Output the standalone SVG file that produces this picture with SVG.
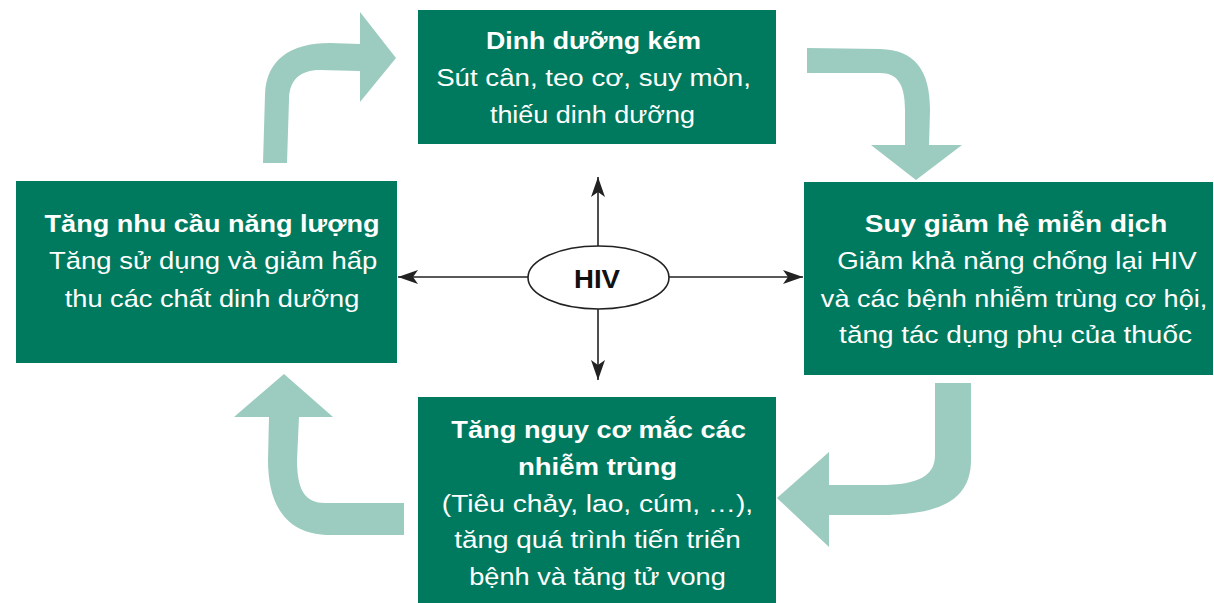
<svg xmlns="http://www.w3.org/2000/svg" width="1214" height="603" viewBox="0 0 1214 603">
<style>
.box{fill:#007a5e}
.t{font-family:"Liberation Sans",Arial,sans-serif;font-size:24px;fill:#ffffff;text-anchor:middle}
.b{font-weight:bold}
.curve{fill:#9ccbbf}
.conn{stroke:#222;stroke-width:1.6;fill:none;marker-end:url(#ah)}
</style>
<defs>
<marker id="ah" markerUnits="userSpaceOnUse" markerWidth="22" markerHeight="16" refX="20" refY="7" orient="auto">
<path d="M0,0 L20,7 L0,14 L5,7 Z" fill="#222"/>
</marker>
</defs>
<rect width="1214" height="603" fill="#ffffff"/>
<g id="curved-arrows">
<path class="curve" d="M263,163 L265,95 C266,60 290,43 330,43 L360,44 L360,12 L396,58 L360,102 L360,71 L320,70 C300,70 289,80 289,100 L287,163 Z"/>
<path class="curve" d="M807,48 L880,49 C915,50 930,70 930,110 L929,145 L962,145 L916,180 L871,145 L905,145 L905,110 C905,85 898,73 880,73 L807,73 Z"/>
<path class="curve" d="M935,383 L971,383 L971,460 C971,500 940,515 880,515 L829,515 L829,547 L777,498 L829,452 L829,485 L880,485 C920,485 935,475 935,455 Z"/>
<path class="curve" d="M404,503 L325,503 C305,503 297,490 297,460 L299,417 L333,417 L284,374 L234,417 L269,417 L268,460 C268,510 290,535 330,535 L404,535 Z"/>
</g>
<g id="connectors">
<line class="conn" x1="598" y1="246" x2="598" y2="177"/>
<line class="conn" x1="598" y1="309" x2="598" y2="380"/>
<line class="conn" x1="669" y1="277" x2="803" y2="277"/>
<line class="conn" x1="528" y1="277" x2="398" y2="277"/>
</g>
<g id="node-top">
<rect class="box" x="418" y="10" width="358" height="134"/>
<g transform="translate(593.5 0) scale(1.12 1)">
<text class="t b" x="0" y="49" textLength="192" lengthAdjust="spacingAndGlyphs">Dinh dưỡng kém</text>
<text class="t" x="0" y="86" textLength="281" lengthAdjust="spacingAndGlyphs">Sút cân, teo cơ, suy mòn,</text>
<text class="t" x="-1" y="123" textLength="183" lengthAdjust="spacingAndGlyphs">thiếu dinh dưỡng</text>
</g>
</g>
<g id="node-left">
<rect class="box" x="16" y="181" width="381" height="182"/>
<g transform="translate(212 0) scale(1.12 1)">
<text class="t b" x="0" y="232" textLength="299" lengthAdjust="spacingAndGlyphs">Tăng nhu cầu năng lượng</text>
<text class="t" x="1" y="269" textLength="293" lengthAdjust="spacingAndGlyphs">Tăng sử dụng và giảm hấp</text>
<text class="t" x="0" y="307" textLength="263" lengthAdjust="spacingAndGlyphs">thu các chất dinh dưỡng</text>
</g>
</g>
<g id="node-right">
<rect class="box" x="804" y="182" width="409" height="193"/>
<g transform="translate(1015.5 0) scale(1.12 1)">
<text class="t b" x="0.5" y="232" textLength="270" lengthAdjust="spacingAndGlyphs">Suy giảm hệ miễn dịch</text>
<text class="t" x="1.3" y="269" textLength="321" lengthAdjust="spacingAndGlyphs">Giảm khả năng chống lại HIV</text>
<text class="t" x="-1.3" y="307" textLength="345" lengthAdjust="spacingAndGlyphs">và các bệnh nhiễm trùng cơ hội,</text>
<text class="t" x="0" y="343" textLength="315" lengthAdjust="spacingAndGlyphs">tăng tác dụng phụ của thuốc</text>
</g>
</g>
<g id="node-bottom">
<rect class="box" x="418" y="397" width="358" height="206"/>
<g transform="translate(597.5 0) scale(1.12 1)">
<text class="t b" x="1" y="438" textLength="263" lengthAdjust="spacingAndGlyphs">Tăng nguy cơ mắc các</text>
<text class="t b" x="0" y="475" textLength="142" lengthAdjust="spacingAndGlyphs">nhiễm trùng</text>
<text class="t" x="0" y="512" textLength="278" lengthAdjust="spacingAndGlyphs">(Tiêu chảy, lao, cúm, …),</text>
<text class="t" x="0" y="548" textLength="256" lengthAdjust="spacingAndGlyphs">tăng quá trình tiến triển</text>
<text class="t" x="0" y="585" textLength="229" lengthAdjust="spacingAndGlyphs">bệnh và tăng tử vong</text>
</g>
</g>
<g id="node-hiv">
<ellipse cx="598.5" cy="277.5" rx="70.5" ry="31.5" fill="#ffffff" stroke="#222" stroke-width="1.6"/>
<text x="597" y="288" font-family="'Liberation Sans',Arial,sans-serif" font-size="26" font-weight="bold" fill="#111" text-anchor="middle" textLength="46" lengthAdjust="spacingAndGlyphs">HIV</text>
</g>
</svg>
